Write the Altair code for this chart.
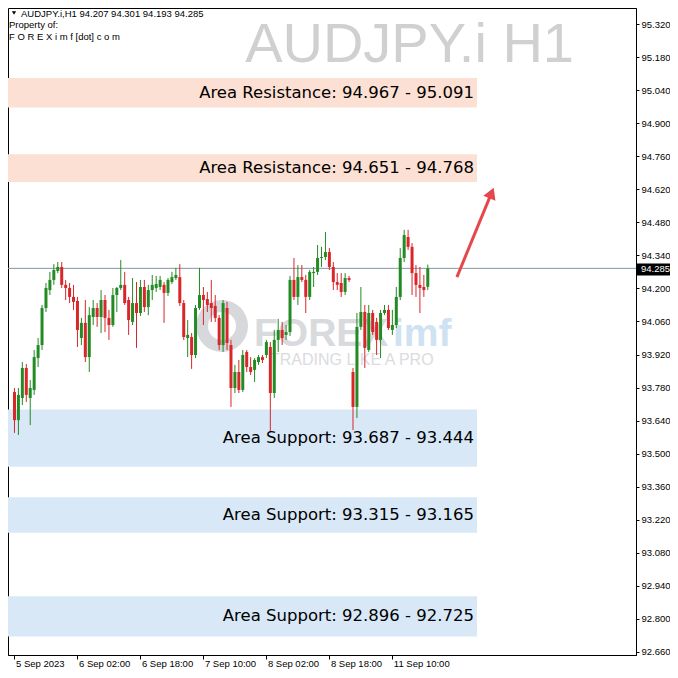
import json
import altair as alt
import pandas as pd

symbol = "AUDJPY.i"
timeframe = "H1"

opens = [93.761, 93.642, 93.736, 93.863, 93.736, 93.770, 93.905, 93.960, 94.117, 94.193,
         94.236, 94.274, 94.291, 94.215, 94.202, 94.164, 94.147, 93.990, 94.054, 93.909,
         94.079, 94.117, 94.079, 94.151, 94.075, 94.045, 94.172, 94.202, 94.215, 94.151,
         94.058, 94.138, 94.096, 94.206, 94.121, 94.193, 94.202, 94.206, 94.215, 94.181,
         94.227, 94.244, 94.248, 94.138, 93.990, 93.994, 93.918, 94.117, 94.172, 94.155,
         94.138, 94.126, 94.075, 93.960, 94.117, 93.960, 93.778, 93.846, 93.770, 93.931,
         93.867, 93.855, 93.888, 93.909, 93.918, 93.952, 93.757, 93.982, 94.024, 94.003,
         94.015, 94.236, 94.164, 94.248, 94.236, 94.164, 94.265, 94.270, 94.329, 94.333,
         94.354, 94.291, 94.227, 94.223, 94.185, 94.244, 93.846, 93.698, 94.037, 94.100,
         93.939, 94.096, 94.058, 93.982, 94.096, 94.109, 94.024, 94.045, 94.164, 94.329,
         94.418, 94.376, 94.265, 94.215, 94.206, 94.207]
highs = [93.778, 93.778, 93.888, 93.880, 93.812, 93.939, 93.990, 94.130, 94.223, 94.270,
         94.303, 94.312, 94.312, 94.236, 94.223, 94.215, 94.164, 94.075, 94.151, 94.121,
         94.151, 94.138, 94.193, 94.172, 94.109, 94.202, 94.206, 94.320, 94.270, 94.164,
         94.244, 94.227, 94.236, 94.236, 94.215, 94.257, 94.253, 94.253, 94.227, 94.244,
         94.270, 94.287, 94.303, 94.151, 94.066, 94.011, 94.130, 94.287, 94.206, 94.185,
         94.236, 94.172, 94.087, 94.151, 94.143, 93.982, 93.876, 93.897, 93.939, 93.939,
         93.909, 93.905, 93.918, 93.918, 93.982, 93.973, 94.024, 94.071, 94.058, 94.045,
         94.253, 94.329, 94.299, 94.299, 94.257, 94.278, 94.291, 94.384, 94.376, 94.439,
         94.371, 94.312, 94.265, 94.265, 94.265, 94.253, 93.863, 94.096, 94.206, 94.130,
         94.130, 94.109, 94.075, 94.109, 94.130, 94.130, 94.109, 94.206, 94.371, 94.448,
         94.448, 94.392, 94.299, 94.291, 94.257, 94.301]
lows = [93.588, 93.579, 93.706, 93.719, 93.621, 93.749, 93.867, 93.939, 94.100, 94.172,
        94.215, 94.265, 94.202, 94.151, 94.138, 94.109, 93.952, 93.960, 93.888, 93.846,
        94.045, 94.037, 94.011, 94.015, 93.982, 94.037, 94.100, 94.193, 94.130, 94.003,
        94.045, 93.948, 94.083, 94.100, 94.087, 94.151, 94.185, 94.193, 94.054, 94.168,
        94.219, 94.236, 94.126, 93.982, 93.909, 93.859, 93.905, 94.109, 94.045, 94.100,
        94.058, 94.058, 93.939, 93.931, 93.939, 93.698, 93.757, 93.757, 93.761, 93.846,
        93.833, 93.804, 93.876, 93.884, 93.905, 93.592, 93.736, 93.931, 93.960, 93.982,
        93.999, 94.151, 94.130, 94.227, 94.096, 94.151, 94.206, 94.257, 94.291, 94.320,
        94.278, 94.193, 94.193, 94.164, 94.172, 94.227, 93.600, 93.651, 94.024, 93.863,
        93.931, 94.003, 93.918, 93.905, 94.087, 94.024, 94.003, 94.032, 94.151, 94.312,
        94.363, 94.172, 94.164, 94.096, 94.164, 94.193]
closes = [93.642, 93.749, 93.863, 93.749, 93.778, 93.909, 93.960, 94.117, 94.202, 94.236,
          94.278, 94.291, 94.215, 94.202, 94.164, 94.143, 94.024, 94.054, 93.909, 94.087,
          94.117, 94.079, 94.151, 94.075, 94.045, 94.172, 94.202, 94.215, 94.138, 94.066,
          94.138, 94.096, 94.206, 94.121, 94.193, 94.215, 94.219, 94.236, 94.181, 94.236,
          94.248, 94.257, 94.138, 93.994, 94.003, 93.918, 94.117, 94.172, 94.151, 94.130,
          94.117, 94.075, 93.960, 94.138, 93.969, 93.778, 93.846, 93.770, 93.918, 93.867,
          93.846, 93.897, 93.909, 93.897, 93.973, 93.757, 93.982, 94.024, 93.990, 94.015,
          94.236, 94.164, 94.248, 94.236, 94.164, 94.270, 94.270, 94.329, 94.333, 94.354,
          94.291, 94.227, 94.215, 94.185, 94.244, 94.236, 93.698, 94.037, 94.100, 93.948,
          94.096, 94.015, 93.982, 94.096, 94.109, 94.032, 94.045, 94.164, 94.329, 94.426,
          94.376, 94.265, 94.215, 94.202, 94.193, 94.285]

time_ticks = [0, 16, 32, 48, 64, 80, 96]
time_labels = ["5 Sep 2023", "6 Sep 02:00", "6 Sep 18:00", "7 Sep 10:00",
               "8 Sep 02:00", "8 Sep 18:00", "11 Sep 10:00"]
price_ticks = [95.320, 95.180, 95.040, 94.900, 94.760, 94.620, 94.480, 94.340, 94.200,
               94.060, 93.920, 93.780, 93.640, 93.500, 93.360, 93.220, 93.080, 92.940,
               92.800, 92.660]

zone_kind = ["Resistance", "Resistance", "Support", "Support", "Support"]
zone_from = [94.967, 94.651, 93.687, 93.315, 92.896]
zone_to = [95.091, 94.768, 93.444, 93.165, 92.725]

arrow_bar = [112.4, 120.75]
arrow_price = [94.248, 94.587]
arrow_head_bar = [121.2]
arrow_head_price = [94.604]

W, H = 628, 647
FONT = "Liberation Sans"
ZFONT = "DejaVu Sans"
UP, DN = "#238b23", "#d9262a"
RES, SUP = "#fce0d3", "#d8e8f7"

x_scale = alt.Scale(domain=[-0.375, 156.625], nice=False, zero=False)
y_scale = alt.Scale(domain=[92.647, 95.388], nice=False, zero=False)
label_expr = f"{json.dumps(time_labels)}[indexof({json.dumps(time_ticks)}, datum.value)]"
x_axis = alt.Axis(values=time_ticks, labelExpr=label_expr, title=None, orient="bottom",
                  grid=False, labelAlign="left", labelBaseline="top", tickSize=4,
                  labelPadding=-1, labelOffset=1, labelFlush=False, labelOverlap=False,
                  labelBound=False)
y_axis = alt.Axis(values=price_ticks, format=".3f", title=None, orient="right", grid=False,
                  tickSize=3, labelPadding=2, labelOverlap=False, labelFlush=False)


def X(field):
    return alt.X(field, type="quantitative", scale=x_scale, axis=x_axis)


def Y(field):
    return alt.Y(field, type="quantitative", scale=y_scale, axis=y_axis)


df = pd.DataFrame({"i": list(range(len(opens))), "open": opens, "high": highs,
                   "low": lows, "close": closes})

zdf = pd.DataFrame({"kind": zone_kind, "a": zone_from, "b": zone_to})
zdf["lo"] = zdf[["a", "b"]].min(axis=1)
zdf["hi"] = zdf[["a", "b"]].max(axis=1)
zdf["mid"] = (zdf["lo"] + zdf["hi"]) / 2
zdf["label"] = [f"Area {k}: {a:.3f} - {b:.3f}" for k, a, b in zip(zone_kind, zone_from, zone_to)]

last = closes[-1]
pdf = pd.DataFrame({"price": [last], "top": [last + 0.021], "bot": [last - 0.030],
                    "label": [f"{last:.3f}"]})

adf = pd.DataFrame({"i": arrow_bar, "p": arrow_price})
hdf = pd.DataFrame({"i": arrow_head_bar, "p": arrow_head_price})
one = pd.DataFrame({"k": [0]})

candle_color = alt.condition("datum.close >= datum.open", alt.value(UP), alt.value(DN))

zones = alt.Chart(zdf).mark_rect().encode(
    x=alt.value(0), x2=alt.value(469), y=Y("lo"), y2=alt.Y2("hi"),
    color=alt.condition("datum.kind == 'Resistance'", alt.value(RES), alt.value(SUP)))

wm_ring = alt.Chart(one).mark_arc(radius=26, radius2=14, theta=0, theta2=6.2832,
                                  color="#d6d8dc").encode(x=alt.value(214), y=alt.value(318))
wm_forex = alt.Chart(one).mark_text(font=FONT, fontWeight="bold", fontSize=39,
                                    color="#d8dade", align="left", baseline="alphabetic").encode(
    x=alt.value(246), y=alt.value(338), text=alt.value("FOREX"))
wm_imf = alt.Chart(one).mark_text(font=FONT, fontWeight="bold", fontSize=39,
                                  color="#cfe2f2", align="left", baseline="alphabetic").encode(
    x=alt.value(385), y=alt.value(338), text=alt.value("imf"))
wm_tag = alt.Chart(one).mark_text(font=FONT, fontSize=16, color="#dadce0", align="left",
                                  baseline="middle").encode(
    x=alt.value(262), y=alt.value(352), text=alt.value("TRADING LIKE A PRO"))

bid_line = alt.Chart(pdf).mark_rule(color="#8696a6", strokeWidth=1).encode(
    y=Y("price"), x=alt.value(0), x2=alt.value(W))

wicks = alt.Chart(df).mark_rule(strokeWidth=1).encode(
    x=X("i"), y=Y("low"), y2="high", color=candle_color)
bodies = alt.Chart(df).mark_bar(size=3).encode(
    x=X("i"), y=Y("open"), y2="close", color=candle_color)

ztext = alt.Chart(zdf).mark_text(align="right", baseline="middle", font=ZFONT, fontSize=16.5,
                                 color="black").encode(x=alt.value(466), y=Y("mid"), text="label:N")

bid_box = alt.Chart(pdf).mark_rect(color="black", clip=False).encode(
    y=Y("top"), y2="bot", x=alt.value(629), x2=alt.value(666))
bid_text = alt.Chart(pdf).mark_text(color="white", align="left", baseline="middle", font=FONT,
                                    fontSize=9.5, dy=1, clip=False).encode(
    y=Y("price"), x=alt.value(633), text="label:N")

header = f"{symbol},{timeframe}  {opens[-1]:.3f} {highs[-1]:.3f} {lows[-1]:.3f} {closes[-1]:.3f}"
h_tri = alt.Chart(one).mark_point(shape="triangle-down", filled=True, size=18, color="black",
                                  opacity=1).encode(x=alt.value(6), y=alt.value(5))
h1 = alt.Chart(one).mark_text(font=FONT, fontSize=9.5, color="black", align="left",
                              baseline="middle").encode(x=alt.value(13), y=alt.value(5.5),
                                                        text=alt.value(header))
h2 = alt.Chart(one).mark_text(font=FONT, fontSize=9.5, color="black", align="left",
                              baseline="middle").encode(x=alt.value(1), y=alt.value(17),
                                                        text=alt.value("Property of:"))
h3 = alt.Chart(one).mark_text(font=FONT, fontSize=9.5, color="black", align="left",
                              baseline="middle").encode(x=alt.value(1), y=alt.value(29),
                                                        text=alt.value("F O R E X i m f [dot] c o m"))
title = alt.Chart(one).mark_text(font=FONT, fontSize=56, color="#d0d0d0", align="right",
                                 baseline="alphabetic").encode(
    x=alt.value(566), y=alt.value(54), text=alt.value(f"{symbol} {timeframe}"))

arrow_line = alt.Chart(adf).mark_line(color="#e4484b", strokeWidth=3).encode(x=X("i"), y=Y("p"))
arrow_head = alt.Chart(hdf).mark_point(shape="triangle-up", filled=True, size=170, angle=22.7,
                                       color="#e4484b", opacity=1).encode(x=X("i"), y=Y("p"))

chart = alt.layer(
    zones, wm_ring, wm_forex, wm_imf, wm_tag, bid_line, wicks, bodies, ztext,
    bid_box, bid_text, h_tri, h1, h2, h3, title, arrow_line, arrow_head
).properties(
    width=W, height=H,
    autosize=alt.AutoSizeParams(type="none"),
    padding={"left": 0, "top": 0, "right": 34, "bottom": 15},
    background="white",
).configure_view(stroke="black", strokeWidth=1).configure_axis(
    domainColor="black", tickColor="black", labelColor="black", labelFont=FONT,
    labelFontSize=9.5, domainWidth=1, tickWidth=1)

chart.save("out.html", embed_options={"renderer": "svg", "actions": False})
